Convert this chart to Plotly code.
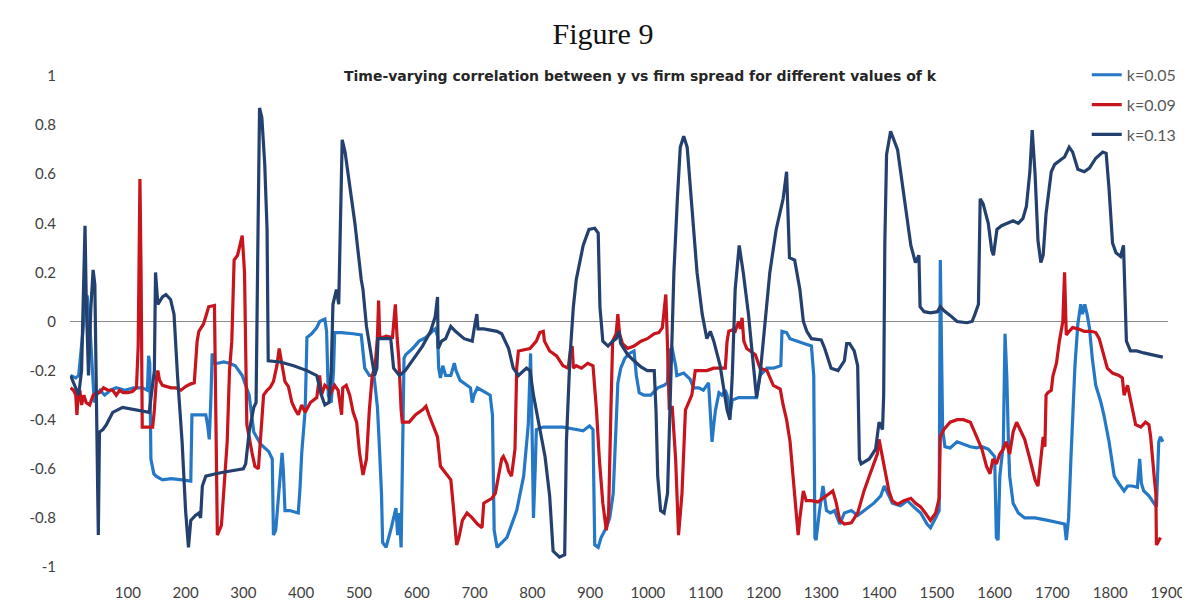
import plotly.graph_objects as go

# ---------------- data ----------------
series_names = ["k=0.05", "k=0.09", "k=0.13"]
series_colors = ["#2478C6", "#C8141C", "#23406F"]

k005_x = [1, 10, 15, 18, 22, 27, 30, 34, 38, 42, 46, 52, 60, 70, 80, 95, 110, 125, 134, 136, 138, 140, 145, 149, 160, 175, 194, 209, 211, 222, 235, 238, 241, 244, 246, 250, 256, 266, 276, 286, 298, 310, 318, 330, 344, 350, 352, 356, 361, 367, 369, 372, 380, 395, 398, 401, 407, 410, 418, 427, 432, 441, 444, 447, 452, 456, 458, 470, 490, 504, 510, 518, 526, 532, 535, 539, 541, 547, 556, 564, 567, 570, 573, 576, 578, 581, 593, 604, 616, 627, 632, 636, 638, 641, 645, 650, 659, 665, 668, 675, 687, 693, 696, 699, 705, 716, 727, 731, 734, 739, 756, 773, 785, 793, 797, 800, 802, 805, 807, 819, 842, 853, 876, 888, 899, 905, 908, 914, 919, 928, 934, 940, 945, 948, 953, 960, 968, 976, 980, 985, 993, 1005, 1017, 1028, 1034, 1036, 1042, 1048, 1050, 1062, 1073, 1079, 1088, 1096, 1105, 1108, 1111, 1114, 1117, 1123, 1128, 1134, 1137, 1142, 1146, 1157, 1171, 1188, 1194, 1206, 1217, 1226, 1230, 1232, 1240, 1246, 1257, 1270, 1283, 1287, 1289, 1291, 1297, 1303, 1309, 1316, 1323, 1332, 1340, 1352, 1363, 1374, 1391, 1403, 1409, 1415, 1423, 1437, 1449, 1460, 1472, 1483, 1489, 1498, 1504, 1506, 1508, 1510, 1514, 1523, 1535, 1546, 1558, 1569, 1578, 1589, 1600, 1603, 1606, 1609, 1615, 1618, 1621, 1624, 1626, 1632, 1641, 1652, 1670, 1692, 1710, 1721, 1724, 1728, 1732, 1735, 1739, 1744, 1749, 1752, 1756, 1760, 1764, 1769, 1775, 1784, 1789, 1798, 1807, 1815, 1824, 1830, 1838, 1847, 1851, 1854, 1858, 1867, 1876, 1880, 1884, 1887, 1891]
k005_y = [-0.22, -0.23, -0.22, -0.15, -0.05, 0.1, 0.1, 0.0, -0.15, -0.33, -0.3, -0.28, -0.3, -0.28, -0.27, -0.28, -0.27, -0.27, -0.28, -0.14, -0.17, -0.56, -0.62, -0.63, -0.645, -0.64, -0.645, -0.65, -0.38, -0.38, -0.38, -0.42, -0.48, -0.3, -0.13, -0.17, -0.17, -0.165, -0.17, -0.18, -0.22, -0.3, -0.45, -0.5, -0.53, -0.56, -0.87, -0.85, -0.7, -0.535, -0.6, -0.77, -0.77, -0.78, -0.68, -0.535, -0.36, -0.065, -0.05, -0.025, 0.0, 0.01, -0.04, -0.3, -0.33, -0.2, -0.045, -0.045, -0.05, -0.055, -0.19, -0.22, -0.22, -0.35, -0.49, -0.7, -0.9, -0.92, -0.84, -0.76, -0.87, -0.78, -0.92, -0.5, -0.15, -0.135, -0.11, -0.08, -0.065, -0.04, -0.03, -0.06, -0.19, -0.23, -0.18, -0.22, -0.22, -0.17, -0.2, -0.24, -0.26, -0.27, -0.33, -0.3, -0.27, -0.285, -0.3, -0.38, -0.85, -0.92, -0.88, -0.77, -0.63, -0.42, -0.13, -0.5, -0.8, -0.6, -0.44, -0.43, -0.43, -0.43, -0.44, -0.445, -0.425, -0.44, -0.91, -0.92, -0.88, -0.84, -0.8, -0.7, -0.42, -0.25, -0.19, -0.15, -0.13, -0.12, -0.22, -0.29, -0.3, -0.3, -0.27, -0.26, -0.25, -0.12, -0.11, -0.18, -0.22, -0.21, -0.235, -0.27, -0.27, -0.28, -0.25, -0.36, -0.49, -0.42, -0.36, -0.29, -0.3, -0.28, -0.3, -0.38, -0.32, -0.31, -0.31, -0.31, -0.22, -0.19, -0.19, -0.185, -0.18, -0.04, -0.045, -0.07, -0.08, -0.09, -0.1, -0.22, -0.88, -0.89, -0.77, -0.67, -0.77, -0.78, -0.77, -0.825, -0.78, -0.77, -0.79, -0.77, -0.74, -0.71, -0.67, -0.7, -0.74, -0.75, -0.73, -0.755, -0.78, -0.825, -0.84, -0.8, -0.77, 0.25, -0.22, -0.44, -0.51, -0.515, -0.49, -0.5, -0.51, -0.515, -0.51, -0.52, -0.55, -0.88, -0.89, -0.63, -0.5, -0.05, -0.22, -0.5, -0.63, -0.74, -0.78, -0.8, -0.8, -0.81, -0.82, -0.825, -0.89, -0.8, -0.56, -0.36, -0.18, -0.01, 0.07, 0.03, 0.07, 0.03, -0.025, -0.15, -0.26, -0.33, -0.38, -0.49, -0.63, -0.66, -0.69, -0.67, -0.67, -0.675, -0.56, -0.66, -0.69, -0.71, -0.74, -0.755, -0.49, -0.47, -0.49]

k009_x = [1, 6, 10, 12, 14, 17, 20, 24, 28, 34, 40, 46, 51, 58, 66, 74, 80, 86, 92, 100, 108, 115, 118, 121, 123, 125, 132, 143, 146, 150, 152, 155, 160, 166, 175, 183, 192, 200, 208, 215, 217, 220, 223, 231, 235, 240, 250, 252, 255, 262, 266, 272, 276, 280, 284, 290, 295, 298, 302, 306, 315, 320, 326, 329, 335, 341, 346, 352, 358, 362, 365, 372, 378, 384, 390, 395, 401, 407, 416, 421, 427, 432, 435, 441, 446, 452, 458, 464, 470, 472, 478, 484, 490, 496, 501, 507, 513, 518, 523, 528, 532, 534, 536, 541, 547, 558, 563, 566, 569, 573, 575, 587, 598, 610, 616, 621, 630, 636, 641, 650, 659, 664, 669, 673, 679, 687, 696, 705, 713, 716, 722, 730, 736, 742, 747, 750, 756, 759, 764, 770, 773, 776, 785, 796, 807, 813, 819, 821, 830, 842, 853, 862, 866, 869, 871, 876, 885, 896, 905, 911, 916, 922, 928, 932, 936, 939, 945, 948, 951, 956, 965, 976, 988, 999, 1011, 1019, 1025, 1029, 1031, 1034, 1037, 1042, 1048, 1053, 1059, 1065, 1071, 1076, 1082, 1091, 1102, 1114, 1125, 1134, 1137, 1140, 1146, 1151, 1157, 1160, 1163, 1166, 1171, 1177, 1186, 1194, 1206, 1217, 1229, 1234, 1240, 1246, 1254, 1260, 1263, 1266, 1269, 1274, 1283, 1294, 1306, 1314, 1320, 1326, 1332, 1340, 1352, 1363, 1369, 1374, 1383, 1391, 1397, 1400, 1406, 1412, 1417, 1423, 1432, 1443, 1455, 1463, 1472, 1480, 1489, 1498, 1504, 1506, 1512, 1523, 1535, 1546, 1558, 1569, 1578, 1586, 1592, 1597, 1603, 1609, 1615, 1620, 1626, 1632, 1638, 1644, 1652, 1661, 1670, 1675, 1680, 1684, 1687, 1689, 1692, 1698, 1701, 1707, 1712, 1718, 1721, 1724, 1729, 1735, 1744, 1755, 1767, 1775, 1781, 1787, 1795, 1804, 1815, 1821, 1824, 1830, 1838, 1844, 1853, 1861, 1867, 1870, 1876, 1879, 1880, 1884, 1887]
k009_y = [-0.27, -0.28, -0.3, -0.38, -0.3, -0.28, -0.34, -0.3, -0.33, -0.34, -0.3, -0.29, -0.29, -0.27, -0.28, -0.28, -0.3, -0.28, -0.29, -0.29, -0.285, -0.27, -0.1, 0.58, 0.2, -0.43, -0.43, -0.43, -0.36, -0.22, -0.2, -0.24, -0.26, -0.265, -0.27, -0.27, -0.28, -0.265, -0.255, -0.25, -0.16, -0.08, -0.04, -0.01, 0.02, 0.06, 0.065, -0.4, -0.87, -0.83, -0.7, -0.49, -0.2, -0.08, 0.25, 0.27, 0.32, 0.35, 0.2, -0.42, -0.535, -0.59, -0.6, -0.5, -0.3, -0.28, -0.27, -0.245, -0.18, -0.11, -0.15, -0.245, -0.265, -0.33, -0.36, -0.38, -0.34, -0.37, -0.33, -0.32, -0.31, -0.22, -0.3, -0.26, -0.27, -0.29, -0.26, -0.28, -0.38, -0.27, -0.26, -0.3, -0.37, -0.41, -0.535, -0.625, -0.56, -0.36, -0.22, -0.18, -0.065, 0.085, -0.065, -0.065, -0.06, -0.065, 0.07, -0.065, -0.15, -0.36, -0.41, -0.41, -0.38, -0.36, -0.345, -0.38, -0.43, -0.47, -0.59, -0.62, -0.645, -0.77, -0.91, -0.88, -0.81, -0.78, -0.8, -0.825, -0.84, -0.74, -0.73, -0.72, -0.7, -0.63, -0.56, -0.55, -0.58, -0.61, -0.63, -0.52, -0.19, -0.12, -0.115, -0.11, -0.08, -0.045, -0.04, -0.08, -0.12, -0.14, -0.18, -0.19, -0.12, -0.1, -0.19, -0.18, -0.19, -0.17, -0.18, -0.36, -0.56, -0.74, -0.85, -0.78, -0.36, -0.08, -0.05, 0.03, -0.05, -0.09, -0.11, -0.1, -0.08, -0.07, -0.05, -0.045, -0.025, 0.05, 0.11, -0.1, -0.36, -0.345, -0.56, -0.87, -0.7, -0.36, -0.33, -0.3, -0.2, -0.2, -0.2, -0.19, -0.19, -0.19, -0.08, -0.04, -0.035, -0.04, 0.0, -0.03, 0.015, -0.08, -0.11, -0.12, -0.135, -0.19, -0.2, -0.26, -0.275, -0.34, -0.4, -0.49, -0.73, -0.87, -0.8, -0.75, -0.69, -0.73, -0.73, -0.735, -0.715, -0.7, -0.69, -0.74, -0.81, -0.825, -0.82, -0.78, -0.73, -0.69, -0.63, -0.58, -0.54, -0.48, -0.56, -0.63, -0.69, -0.73, -0.745, -0.73, -0.72, -0.74, -0.755, -0.78, -0.81, -0.78, -0.72, -0.47, -0.44, -0.41, -0.4, -0.4, -0.41, -0.47, -0.52, -0.59, -0.62, -0.56, -0.58, -0.54, -0.52, -0.49, -0.54, -0.45, -0.41, -0.44, -0.48, -0.56, -0.645, -0.67, -0.55, -0.47, -0.51, -0.3, -0.29, -0.28, -0.22, -0.17, -0.08, 0.0, 0.2, -0.055, -0.04, -0.025, -0.03, -0.04, -0.04, -0.045, -0.07, -0.12, -0.19, -0.21, -0.22, -0.23, -0.3, -0.26, -0.36, -0.42, -0.43, -0.41, -0.42, -0.47, -0.63, -0.7, -0.91, -0.895, -0.88]

k013_x = [1, 8, 15, 20, 24, 26, 28, 32, 36, 40, 43, 46, 49, 51, 57, 63, 74, 91, 114, 137, 146, 148, 152, 160, 166, 174, 180, 186, 194, 200, 205, 209, 217, 223, 226, 229, 235, 252, 275, 300, 304, 310, 318, 322, 325, 328, 332, 337, 341, 343, 364, 387, 410, 427, 435, 441, 448, 452, 455, 461, 465, 468, 471, 476, 493, 504, 507, 513, 521, 527, 531, 533, 545, 555, 560, 570, 580, 595, 610, 624, 632, 636, 637, 643, 650, 659, 667, 682, 696, 700, 704, 706, 716, 739, 747, 759, 767, 776, 790, 796, 802, 810, 822, 830, 836, 847, 856, 859, 865, 871, 876, 888, 898, 908, 914, 917, 922, 931, 939, 945, 950, 953, 965, 976, 988, 999, 1011, 1014, 1017, 1022, 1028, 1034, 1040, 1045, 1051, 1056, 1062, 1068, 1076, 1085, 1094, 1102, 1108, 1114, 1125, 1137, 1142, 1146, 1151, 1158, 1165, 1174, 1183, 1188, 1194, 1203, 1211, 1222, 1234, 1240, 1245, 1254, 1263, 1269, 1275, 1283, 1300, 1306, 1317, 1329, 1340, 1344, 1349, 1357, 1363, 1366, 1369, 1383, 1394, 1400, 1406, 1408, 1410, 1413, 1420, 1432, 1443, 1455, 1463, 1469, 1471, 1478, 1489, 1501, 1506, 1512, 1523, 1535, 1552, 1561, 1566, 1572, 1575, 1580, 1589, 1595, 1598, 1604, 1612, 1624, 1632, 1641, 1649, 1655, 1661, 1665, 1670, 1675, 1680, 1684, 1689, 1698, 1704, 1715, 1721, 1729, 1735, 1744, 1755, 1764, 1775, 1787, 1793, 1798, 1804, 1810, 1818, 1823, 1825, 1828, 1835, 1846, 1858, 1869, 1881, 1891]
k013_y = [-0.22, -0.26, -0.3, -0.2, 0.2, 0.39, 0.1, -0.22, 0.05, 0.21, 0.15, -0.3, -0.87, -0.45, -0.44, -0.42, -0.37, -0.35, -0.36, -0.37, -0.2, 0.2, 0.07, 0.1, 0.11, 0.09, 0.03, -0.22, -0.49, -0.77, -0.92, -0.81, -0.79, -0.78, -0.8, -0.67, -0.63, -0.62, -0.61, -0.6, -0.58, -0.45, -0.35, -0.33, 0.3, 0.87, 0.83, 0.64, 0.375, -0.16, -0.165, -0.18, -0.2, -0.22, -0.3, -0.34, -0.33, -0.2, 0.07, 0.13, 0.07, 0.4, 0.74, 0.69, 0.4, 0.17, 0.13, -0.02, -0.13, -0.22, -0.19, -0.07, -0.07, -0.07, -0.19, -0.22, -0.2, -0.15, -0.1, -0.04, 0.02, 0.1, -0.11, -0.08, -0.07, -0.02, -0.04, -0.07, -0.08, -0.02, 0.03, -0.03, -0.03, -0.04, -0.05, -0.11, -0.19, -0.22, -0.19, -0.2, -0.3, -0.4, -0.55, -0.71, -0.935, -0.96, -0.95, -0.49, -0.15, 0.06, 0.17, 0.31, 0.375, 0.38, 0.36, 0.06, -0.08, -0.1, -0.08, -0.07, -0.04, -0.09, -0.135, -0.16, -0.185, -0.2, -0.2, -0.36, -0.63, -0.77, -0.78, -0.7, -0.22, 0.2, 0.5, 0.71, 0.755, 0.71, 0.47, 0.2, 0.03, -0.07, -0.04, -0.08, -0.18, -0.36, -0.4, -0.22, 0.13, 0.31, 0.2, 0.03, -0.19, -0.31, -0.22, -0.01, 0.2, 0.375, 0.5, 0.61, 0.26, 0.25, 0.13, 0.0, -0.04, -0.07, -0.075, -0.11, -0.19, -0.2, -0.16, -0.09, -0.09, -0.12, -0.18, -0.56, -0.58, -0.56, -0.52, -0.41, -0.44, -0.3, 0.32, 0.68, 0.775, 0.7, 0.51, 0.31, 0.24, 0.27, 0.06, 0.04, 0.035, 0.04, 0.06, 0.045, 0.025, 0.0, -0.005, 0.0, 0.03, 0.07, 0.5, 0.48, 0.4, 0.29, 0.27, 0.375, 0.39, 0.4, 0.41, 0.4, 0.42, 0.47, 0.61, 0.78, 0.6, 0.33, 0.24, 0.27, 0.44, 0.61, 0.64, 0.66, 0.67, 0.71, 0.69, 0.62, 0.61, 0.625, 0.665, 0.69, 0.685, 0.54, 0.32, 0.28, 0.265, 0.31, 0.14, -0.08, -0.12, -0.12, -0.128, -0.135, -0.14, -0.145]

y_tick_values = [1, 0.8, 0.6, 0.4, 0.2, 0, -0.2, -0.4, -0.6, -0.8, -1]
y_tick_labels = ["1", "0.8", "0.6", "0.4", "0.2", "0", "-0.2", "-0.4", "-0.6", "-0.8", "-1"]
x_tick_values = list(range(100, 2000, 100))
x_tick_labels = [str(v) for v in x_tick_values]

figure_label = "Figure 9"
chart_title = "Time-varying correlation between y vs firm spread for different values of k"

# ---------------- figure ----------------
fig = go.Figure()
for name, color, xs, ys in zip(series_names, series_colors,
                               [k005_x, k009_x, k013_x],
                               [k005_y, k009_y, k013_y]):
    fig.add_trace(go.Scatter(x=xs, y=ys, mode="lines", name=name,
                             legendgroup=name,
                             line=dict(color=color, width=3.2)))

fig.update_layout(
    width=1190, height=605,
    paper_bgcolor="white", plot_bgcolor="white",
    margin=dict(l=62, r=22, t=68, b=38),
    title=dict(text=figure_label, x=0.5, xref="container", y=0.958,
               yref="container", yanchor="middle", xanchor="center",
               font=dict(family="Liberation Serif", size=30, color="#111111")),
    showlegend=True,
    legend=dict(x=0.926, y=1.037, xanchor="left", yanchor="top",
                bgcolor="rgba(0,0,0,0)", font=dict(family="Lato", size=16, color="#595959"),
                tracegroupgap=6, itemwidth=30),
    xaxis=dict(range=[0, 1900], tickmode="array", tickvals=x_tick_values,
               ticktext=x_tick_labels, showgrid=False, zeroline=False,
               showline=False, ticks="outside", ticklen=12,
               tickcolor="rgba(0,0,0,0)",
               tickfont=dict(family="Lato", size=15, color="#404040")),
    yaxis=dict(range=[-1, 1], tickmode="array", tickvals=y_tick_values,
               ticktext=y_tick_labels, showgrid=False, zeroline=True,
               zerolinecolor="#8C8C8C", zerolinewidth=1, showline=False,
               ticks="outside", ticklen=10, tickcolor="rgba(0,0,0,0)",
               tickfont=dict(family="Lato", size=15, color="#404040")),
    annotations=[dict(text="<b>" + chart_title + "</b>", xref="paper", yref="paper",
                      x=0.52, y=1.0, xanchor="center", yanchor="middle",
                      showarrow=False,
                      font=dict(family="DejaVu Sans", size=14, color="#262626"))],
)

fig.write_html("out.html")
